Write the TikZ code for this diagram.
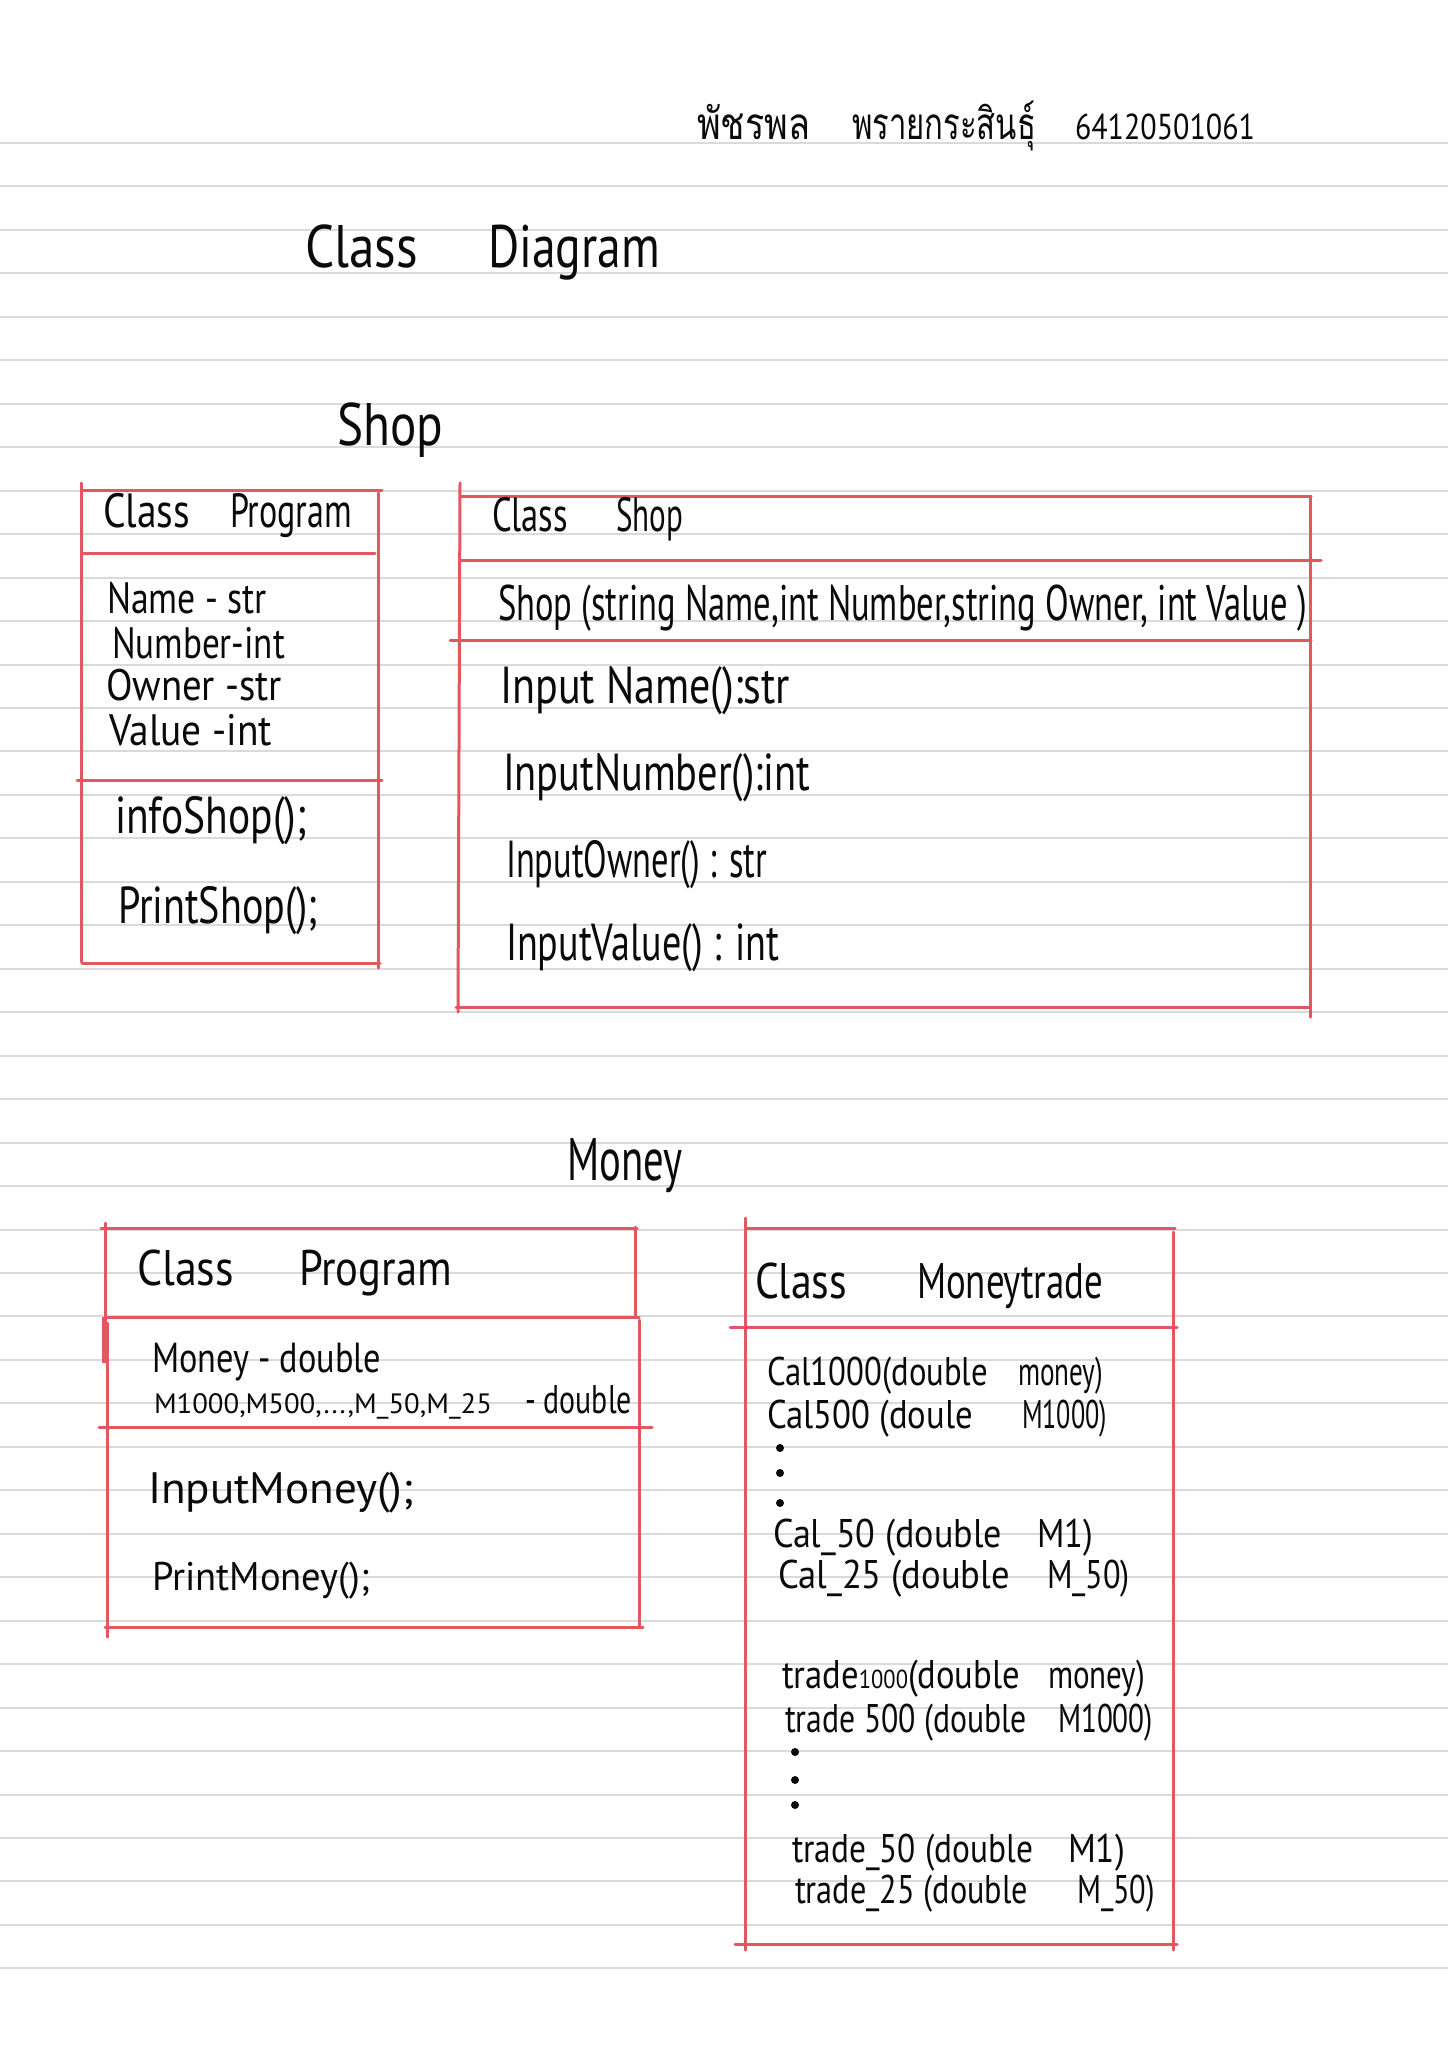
\documentclass[tikz,border=0pt]{standalone}
\usepackage{fontspec}
\usepackage{graphicx}
\setmainfont{PT Sans}
\newfontfamily\thaifont[Script=Thai]{Loma}

% squeeze or stretch a piece of text horizontally to a given width (in px units)
\newsavebox\hwbox
\newlength\hwlen
\newcommand\hw[2]{\sbox\hwbox{#2}\hwlen=\wd\hwbox
  \pgfmathsetmacro\hwr{(#1)*0.5/\hwlen}\scalebox{\hwr}[1]{\usebox\hwbox}}
% two pieces of one line: total width, left width, left text, right width, right text
\newcommand\hwtwo[5]{\makebox[\dimexpr #1pt/2\relax][l]{\hw{#2}{#3}\hfill\hw{#4}{#5}}}

\definecolor{pen}{RGB}{226,88,96}
\definecolor{rule}{RGB}{218,218,218}
\definecolor{ink}{RGB}{10,10,10}

\tikzset{
  paperline/.style={draw=rule, line width=1pt},
  boxline/.style={draw=pen, line width=1.5pt, line cap=round},
  tx/.style={inner sep=0pt, outer sep=0pt, anchor=base west, text=ink},
  fbig/.style={font=\fontsize{30}{30}\selectfont},
  fhead/.style={font=\fontsize{24}{24}\selectfont},
  fitem/.style={font=\fontsize{26}{26}\selectfont},
  fattr/.style={font=\fontsize{22}{22}\selectfont},
  fsmall/.style={font=\fontsize{20}{20}\selectfont},
}

\begin{document}
\begin{tikzpicture}[x=0.5pt,y=-0.5pt]
  \fill[white] (0,0) rectangle (1448,2048);
  \useasboundingbox (0,0) rectangle (1448,2048);

  % ruled paper
  \foreach \i in {0,...,42}
    \draw[paperline] (0,{143+\i*43.46}) -- (1448,{143+\i*43.46});

  % name and student id
  \node[tx, font=\thaifont\fontsize{22}{22}\selectfont] (fname) at (697,140) {\hw{113}{พัชรพล}};
  \node[tx, font=\thaifont\fontsize{22}{22}\selectfont] (lname) at (852,140) {\hw{184}{พรายกระสินธุ์}};
  \node[tx, font=\fontsize{18}{18}\selectfont] (sid) at (1075,140) {\hw{180}{64120501061}};

  % titles
  \node[tx, fbig] (title) at (305,268) {\hwtwo{355}{113}{Class}{172}{Diagram}};
  \node[tx, fbig] (shoptitle) at (337,445) {\hw{106}{Shop}};
  \node[tx, fbig] (moneytitle) at (567,1180) {\hw{115}{Money}};

  % ---- class Program (shop) ----
  \draw[boxline] (83,490) -- (382,490);
  \draw[boxline] (81,483) -- (81,962);
  \draw[boxline] (378,493) -- (378,968);
  \draw[boxline] (83,553) -- (375,553);
  \draw[boxline] (77,780) -- (382,780);
  \draw[boxline] (82,963) -- (380,963);
  \node[tx, fhead] (p1h) at (103,527) {\hwtwo{249}{87}{Class}{122}{Program}};
  \node[tx, fattr] (p1a) at (107,613) {\hw{160}{Name - str}};
  \node[tx, fattr] (p1b) at (112,658) {\hw{173}{Number-int}};
  \node[tx, fattr] (p1c) at (106,700) {\hw{176}{Owner -str}};
  \node[tx, fattr] (p1d) at (109,745) {\hw{163}{Value -int}};
  \node[tx, fitem] (p1e) at (115,833) {\hw{192}{infoShop();}};
  \node[tx, fitem] (p1f) at (118,923) {\hw{200}{PrintShop();}};

  % ---- class Shop ----
  \draw[boxline] (460,496) -- (1311,496);
  \draw[boxline] (460,483) -- (458,1012);
  \draw[boxline] (1310,496) -- (1310,1017);
  \draw[boxline] (460,560) -- (1321,560);
  \draw[boxline] (450,640) -- (1311,640);
  \draw[boxline] (456,1007) -- (1310,1007);
  \node[tx, fhead] (s1h) at (492,531) {\hwtwo{191}{76}{Class}{67}{Shop}};
  \node[tx, font=\fontsize{25}{25}\selectfont] (s1c) at (498,620)
    {\hw{809}{Shop (string Name,int Number,string Owner, int Value )}};
  \node[tx, fitem] (s1a) at (500,703) {\hw{290}{Input Name():str}};
  \node[tx, fitem] (s1b) at (503,790) {\hw{307}{InputNumber():int}};
  \node[tx, fitem] (s1d) at (506,877) {\hw{261}{InputOwner() : str}};
  \node[tx, fitem] (s1e) at (506,960) {\hw{273}{InputValue() : int}};

  % ---- class Program (money) ----
  \draw[boxline] (101,1228) -- (637,1228);
  \draw[boxline] (105,1223) -- (105,1317);
  \draw[draw=pen, line width=2.5pt] (104,1317) -- (104,1363);
  \draw[boxline] (107,1323) -- (107,1637);
  \draw[boxline] (635,1227) -- (635,1317);
  \draw[boxline] (639,1320) -- (639,1627);
  \draw[boxline] (105,1317) -- (639,1317);
  \draw[boxline] (99,1427) -- (652,1427);
  \draw[boxline] (105,1627) -- (643,1627);
  \node[tx, font=\fontsize{25}{25}\selectfont] (m1h) at (137,1285) {\hwtwo{315}{97}{Class}{153}{Program}};
  \node[tx, font=\fontsize{21}{21}\selectfont] (m1a) at (152,1372) {\hw{229}{Money - double}};
  \node[tx] (m1b) at (154,1413)
    {\hwtwo{478}{338}{\fontsize{14}{14}\selectfont M1000,M500,...,M\_50,M\_25}{107}{\fontsize{20}{20}\selectfont - double}};
  \node[tx, font=\fontsize{22}{22}\selectfont] (m1c) at (148,1503) {\hw{266}{InputMoney();}};
  \node[tx, fsmall] (m1d) at (152,1590) {\hw{218}{PrintMoney();}};

  % ---- class Moneytrade ----
  \draw[boxline] (745,1228) -- (1175,1228);
  \draw[boxline] (745,1218) -- (745,1950);
  \draw[boxline] (1173,1232) -- (1173,1950);
  \draw[boxline] (730,1327) -- (1177,1327);
  \draw[boxline] (735,1944) -- (1177,1944);
  \node[tx, font=\fontsize{25}{25}\selectfont] (t1h) at (755,1298) {\hwtwo{348}{92}{Class}{186}{Moneytrade}};
  \node[tx, fsmall] (c1) at (767,1385) {\hwtwo{336}{221}{Cal1000(double}{85}{money)}};
  \node[tx, fsmall] (c2) at (767,1428) {\hwtwo{340}{206}{Cal500 (doule}{85}{M1000)}};
  \foreach \yy in {1448,1473,1503} \fill[ink] (780,\yy) circle (4);
  \node[tx, fsmall] (c3) at (773,1547) {\hwtwo{320}{229}{Cal\_50 (double}{56}{M1)}};
  \node[tx, fsmall] (c4) at (778,1588) {\hwtwo{352}{232}{Cal\_25 (double}{83}{M\_50)}};
  \node[tx, fsmall] (r1) at (782,1688)
    {\hwtwo{363}{238}{trade{\fontsize{13}{13}\selectfont 1000}(double}{97}{money)}};
  \node[tx, fsmall] (r2) at (785,1732) {\hwtwo{368}{242}{trade 500 (double}{95}{M1000)}};
  \foreach \yy in {1752,1780,1805} \fill[ink] (795,\yy) circle (4);
  \node[tx, fsmall] (r3) at (792,1862) {\hwtwo{333}{241}{trade\_50 (double}{57}{M1)}};
  \node[tx, fsmall] (r4) at (795,1903) {\hwtwo{360}{233}{trade\_25 (double}{78}{M\_50)}};
\end{tikzpicture}
\end{document}
